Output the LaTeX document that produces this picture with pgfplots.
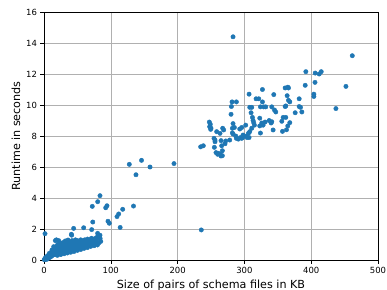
\documentclass[border=0pt]{standalone}
\usepackage{pgfplots}
\pgfplotsset{compat=1.18}
\usepackage{fontspec}
\setmainfont{DejaVu Sans}
\definecolor{mplblue}{HTML}{1F77B4}
\definecolor{gridgray}{HTML}{B0B0B0}
\begin{document}
\begin{tikzpicture}
\path[use as bounding box] (0,0) rectangle (387bp,290bp);
\begin{axis}[
  at={(44bp,30bp)}, anchor=south west, scale only axis,
  width=334bp, height=248bp,
  xmin=0, xmax=500, ymin=0, ymax=16,
  xtick={0,100,...,500}, ytick={0,2,...,16},
  xtick pos=bottom, ytick pos=left,
  grid=major, grid style={color=gridgray, line width=0.6pt},
  axis line style={line width=0.7pt},
  tick align=outside, major tick length=3.5bp,
  tick style={black, line width=0.6pt},
  tick label style={font=\fontsize{8.5}{10}\selectfont},
  /pgf/number format/assume math mode=true,
  xlabel={Size of pairs of schema files in KB},
  ylabel={Runtime in seconds},
  xlabel style={font=\fontsize{11.2}{13}\selectfont, at={(axis description cs:0.5,-0.114)}, anchor=base},
  ylabel style={font=\fontsize{11.2}{13}\selectfont, at={(axis description cs:-0.0838,0.5)}, anchor=center},
  axis on top,
]
\addplot[mplblue, only marks, mark=*, mark size=2.2bp, mark options={draw=none, fill=mplblue}] table {
x y
0.5 0.02
1 0.05
1.5 0.1
2 0.03
2.5 0.15
3 0.08
3.5 0.2
4 0.12
4.5 0.05
5 0.25
5.5 0.18
6 0.1
6.5 0.3
7 0.22
7.5 0.15
8 0.35
8 0.43
8.5 0.25
9 0.18
9.5 0.4
10 0.3
10.5 0.22
11 0.5
11.5 0.35
12 0.65
12 0.28
12.5 0.45
13 0.55
13.5 0.32
14 0.6
14.5 0.86
15 0.4
15.5 0.7
16 0.5
16.5 0.35
17 0.8
17 1.25
17.5 0.6
18 0.45
18.5 1.3
19 0.7
19.5 0.9
20 0.5
20 0.3
20.5 1.0
21 0.8
21.5 0.6
22 1.25
22 0.4
22.5 0.9
23 0.7
23.5 1.05
24 0.55
24.5 0.8
25 1.0
25 0.35
25.5 0.65
26 0.9
26 0.45
27 1.1
27.5 0.6
28 0.8
28 0.5
28.5 1.0
29 0.7
30 1.15
30 0.4
30.5 0.9
31 0.75
32 1.23
32.5 1.0
33 0.8
33 0.6
34 0.95
34.5 0.7
35 1.1
35 0.45
36 1.29
36.5 0.85
37 1.0
38 0.8
38 0.62
38.5 1.15
39 0.95
40 0.75
40 0.5
40.5 1.05
41 1.66
41.4 1.6
42 1.25
42.5 0.9
43 1.1
43 0.7
44 0.8
45 1.0
45 0.55
46 1.2
46 0.85
47 1.3
48 0.95
48 0.75
49 1.1
50 1.25
50 0.62
50.5 0.9
51 1.05
52 1.2
53 0.95
53 0.8
54 1.1
55 1.3
55 0.68
56 1.0
57 1.15
58 0.95
58 0.85
59 1.25
60 1.1
60 0.75
61 1.3
62 1.0
63 1.2
63 0.9
64 1.1
65 1.35
65 0.8
66 1.05
67 1.25
68 1.15
68 0.95
69 1.3
70 1.05
70 0.88
71 1.4
72 1.2
73 1.3
73 1.0
74 1.1
75 1.35
75 0.92
76 1.2
77 1.4
78 1.15
78 1.05
79 1.29
80 1.5
80 0.97
82 1.1
84 1.4
85 1.2
1.5 1.7
44.4 2.04
59.4 2.08
71.4 1.96
73 2.45
80.3 1.72
83.8 1.6
72.3 3.46
80.4 3.76
83.8 4.15
92.4 3.37
94.3 3.5
95.8 2.5
97.8 2.37
109.3 2.8
111.8 2.97
114 2.1
117.8 3.27
134 3.48
127.7 6.17
137.7 5.5
146 6.43
158.7 6.0
194.6 6.22
235.5 1.94
234.5 7.3
238.5 7.37
247.5 8.9
249 8.75
248 8.6
250 8.5
249.5 8.43
254.5 7.85
255 7.27
256 7.63
256 7.74
257.5 6.93
258.5 8.28
260 6.82
261 6.88
263.5 6.84
263.5 8.17
265 6.71
265 7.7
266 7.37
267 7.05
267 6.73
267.5 8.5
269 8.39
271 7.5
272 7.68
278 7.74
280 9.4
280.5 9.9
281.5 10.2
282 8.5
282 8.2
283 14.4
283 8.8
283 8.13
285 8.55
287 8.0
288 10.2
288 7.85
291 7.8
293 8.45
294 7.9
296 8.55
296 7.85
297.5 7.9
298 8.06
302 8.7
303 8.0
304 7.9
306 8.17
307 10.7
307 7.9
308 8.28
308 9.85
310 9.5
311 9.85
311 8.5
312 9.2
313 9.0
314 8.85
315 8.7
317.5 10.4
321.5 10.4
323 9.15
323 8.65
324 9.88
324 8.19
326 8.84
327 11.0
327 10.2
328 8.7
329 9.88
331 8.9
332 9.88
337 9.0
340 8.84
341 9.88
341 8.92
343 8.39
344 10.67
345 9.68
347 9.55
356 8.95
357 8.3
358 9.2
361 11.1
361 9.9
362 9.94
362 9.2
363 8.4
364 10.6
365 11.15
366 10.3
366 11.1
368 10.2
368 8.86
365 8.65
376 9.5
382 10.4
382 9.9
384 9.85
386 9.55
391 11.27
392 12.15
404 10.7
404 10.55
405.7 11.46
406 12.06
412 12.0
415 12.15
437 9.77
452 11.2
461.5 13.18
};
\end{axis}
\end{tikzpicture}
\end{document}
